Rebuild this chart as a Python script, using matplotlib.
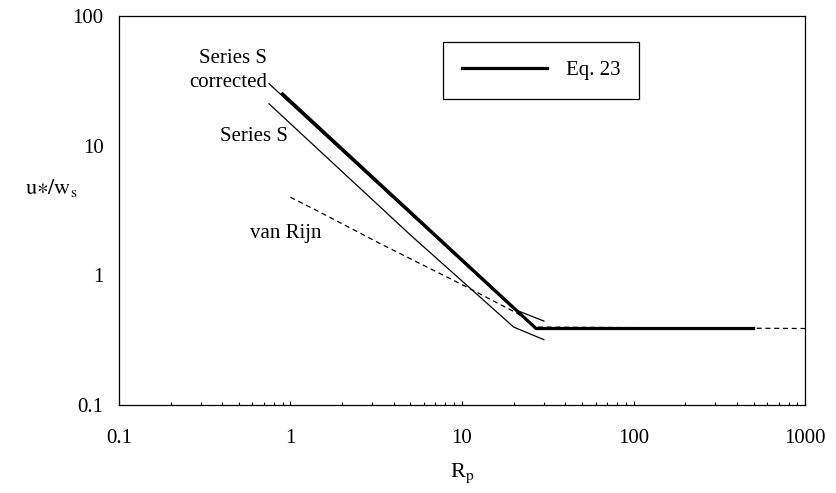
import matplotlib
matplotlib.use("Agg")
import matplotlib.pyplot as plt

plt.rcParams['font.family'] = ['Liberation Serif', 'DejaVu Serif']
plt.rcParams['mathtext.fontset'] = 'stix'

# data (log-log axes)
eq23_x = [0.9, 27, 500]
eq23_y = [25, 0.39, 0.39]

corr_x = [0.75, 20, 30]
corr_y = [30, 0.55, 0.445]

series_s_x = [0.75, 5, 20, 30]
series_s_y = [21, 2.05, 0.40, 0.32]

rijn_x = [1, 1.5, 3.3, 10, 21, 27, 1000]
rijn_y = [4.0, 3.05, 1.77, 0.85, 0.51, 0.40, 0.39]

fig = plt.figure(figsize=(8.37, 4.93), dpi=100)
ax = fig.add_axes([0.142, 0.178, 0.82, 0.79])

ax.plot(rijn_x, rijn_y, color='black', lw=0.9, ls=(0, (4, 3)))
ax.plot(series_s_x, series_s_y, color='black', lw=0.9)
ax.plot(corr_x, corr_y, color='black', lw=0.9)
ax.plot(eq23_x, eq23_y, color='black', lw=2.3, label='Eq. 23')

ax.set_xscale('log')
ax.set_yscale('log')
ax.set_xlim(0.1, 1000)
ax.set_ylim(0.1, 100)
ax.set_xticks([0.1, 1, 10, 100, 1000])
ax.set_xticklabels(['0.1', '1', '10', '100', '1000'])
ax.set_yticks([0.1, 1, 10, 100])
ax.set_yticklabels(['0.1', '1', '10', '100'])
ax.yaxis.set_minor_locator(plt.NullLocator())
ax.tick_params(axis='x', which='major', direction='in', length=3, width=0.8,
               labelsize=15, pad=17)
ax.tick_params(axis='x', which='minor', direction='in', length=2.2, width=0.8)
ax.tick_params(axis='y', which='both', length=0, labelsize=15, pad=11)
for s in ax.spines.values():
    s.set_linewidth(0.9)

ax.set_xlabel('R$_\\mathrm{p}$', fontsize=16, labelpad=10)
ax.set_ylabel('$\\mathrm{u}{\\ast}/\\mathrm{w}_\\mathrm{s}$', fontsize=16,
              rotation=0, ha='center', va='center')
ax.yaxis.set_label_coords(-0.098, 0.558)

ax.text(0.216, 0.859, 'Series S\ncorrected', transform=ax.transAxes,
        fontsize=15, ha='right', va='center', linespacing=1.4)
ax.text(0.147, 0.689, 'Series S', transform=ax.transAxes, fontsize=15,
        va='center')
ax.text(0.191, 0.442, 'van Rijn', transform=ax.transAxes, fontsize=15,
        va='center')

leg = ax.legend(loc='upper left', bbox_to_anchor=(0.472, 0.933), fontsize=15,
                fancybox=False, edgecolor='black', framealpha=1,
                handlelength=4.1, borderpad=0.9, handletextpad=0.9,
                borderaxespad=0)
leg.get_frame().set_linewidth(0.9)

fig.savefig('out.png', dpi=100)
